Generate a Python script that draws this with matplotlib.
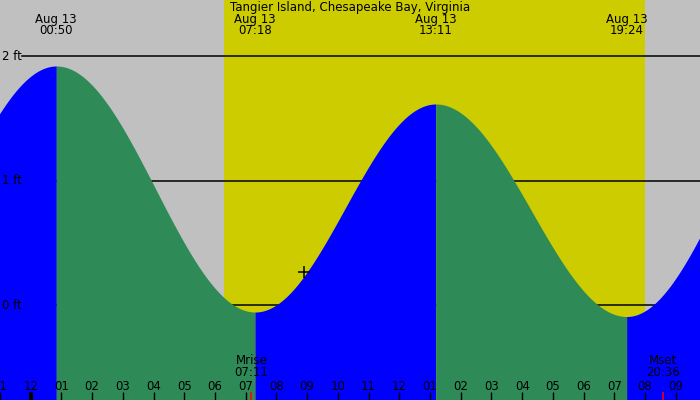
import numpy as np
import matplotlib
matplotlib.use("Agg")
import matplotlib.pyplot as plt

# ---- data (hours relative to 00:00 Aug 13, heights in ft) ----
title = "Tangier Island, Chesapeake Bay, Virginia"
extreme_times = [-5.6, 0.833, 7.3, 13.183, 19.4, 25.55]
extreme_heights = [-0.10, 1.92, -0.054, 1.615, -0.09, 1.85]
label_times = [0.833, 7.3, 13.183, 19.4]
label_dates = ["Aug 13", "Aug 13", "Aug 13", "Aug 13"]
label_clock = ["00:50", "07:18", "13:11", "19:24"]
sunrise, sunset = 6.28, 20.0
moonrise, moonset = 7.183, 20.6
moon_labels = [("Mrise", "07:11"), ("Mset", "20:36")]
level_values = [0, 1, 2]
level_labels = ["0 ft", "1 ft", "2 ft"]
hour_ticks = list(range(-1, 22))
hour_labels = [("11" if h == -1 else ("12" if h % 12 == 0 else "%02d" % (h % 12))) for h in hour_ticks]
now_time, now_height = 8.9, 0.265

GRAY = "#c0c0c0"
YELLOW = "#cccc00"
BLUE = "#0000ff"
GREEN = "#2e8b57"

W, H = 700, 400
fig = plt.figure(figsize=(7, 4), dpi=100)
fig.patch.set_facecolor(GRAY)
ax = fig.add_axes([0, 0, 1, 1])
ax.set_facecolor(GRAY)
xmin, xmax = -30 / 30.75, 670 / 30.75
ymin, ymax = (305.3 - 400) / 124.65, 305.3 / 124.65
ax.set_xlim(xmin, xmax)
ax.set_ylim(ymin, ymax)
for s in ax.spines.values():
    s.set_visible(False)

# daylight
ax.axvspan(sunrise, sunset, color=YELLOW, lw=0, zorder=0)

# level lines (behind tide)
for v in level_values:
    ax.axhline(v, xmin=22 / W, xmax=1, color="black", lw=1.1, zorder=1)

# tide curve: cosine shape between successive extremes
for i in range(len(extreme_times) - 1):
    t0, t1 = extreme_times[i], extreme_times[i + 1]
    h0, h1 = extreme_heights[i], extreme_heights[i + 1]
    t = np.linspace(t0, t1, 200)
    f = (t - t0) / (t1 - t0)
    h = h0 + (h1 - h0) * (1 - np.cos(np.pi * f)) / 2
    col = BLUE if h1 > h0 else GREEN
    ax.fill_between(t, h, ymin, color=col, lw=0, zorder=2)

# ticks at bottom
ax.set_xticks(hour_ticks)
ax.set_xticklabels([])
ax.tick_params(axis="x", direction="in", length=8 * 0.72, width=1.0, color="black",
               bottom=True, top=False, labelbottom=False)
ax.tick_params(axis="y", left=False, labelleft=False)
for tk in ax.xaxis.get_major_ticks():
    tk.tick1line.set_zorder(5)
ax.set_axisbelow(False)
xt = ax.get_xaxis_transform()
ax.vlines([0], 0, 8 / H, transform=xt, color="black", lw=3, zorder=6)
ax.vlines([moonrise, moonset], 0, 8 / H, transform=xt, color="red", lw=1.1, zorder=6)

fs = 8.5
def ty(py):
    return 1 - py / H

for t, lab in zip(hour_ticks, hour_labels):
    ax.text(t, ty(386), lab, transform=xt, ha="center", va="center", fontsize=fs, zorder=7)

# level labels
for v, lab in zip(level_values, level_labels):
    ax.text(2 / W, v, lab, transform=ax.get_yaxis_transform(), ha="left", va="center",
            fontsize=fs, zorder=7)

# title and extreme labels
ax.text(0.5, ty(7), title, transform=ax.transAxes, ha="center", va="center", fontsize=fs, zorder=7)
for t, d, c in zip(label_times, label_dates, label_clock):
    ax.text(t, ty(19), d, transform=xt, ha="center", va="center", fontsize=fs, zorder=7)
    ax.text(t, ty(31), c, transform=xt, ha="center", va="center", fontsize=fs, zorder=7)

for t, (a, b) in zip([moonrise, moonset], moon_labels):
    ax.text(t, ty(361), a, transform=xt, ha="center", va="center", fontsize=fs, zorder=7)
    ax.text(t, ty(373), b, transform=xt, ha="center", va="center", fontsize=fs, zorder=7)

# current time marker
ax.plot([now_time], [now_height], marker="+", color="black", ms=8, mew=1.1, zorder=8)

fig.savefig("out.png", dpi=100, facecolor=GRAY)
